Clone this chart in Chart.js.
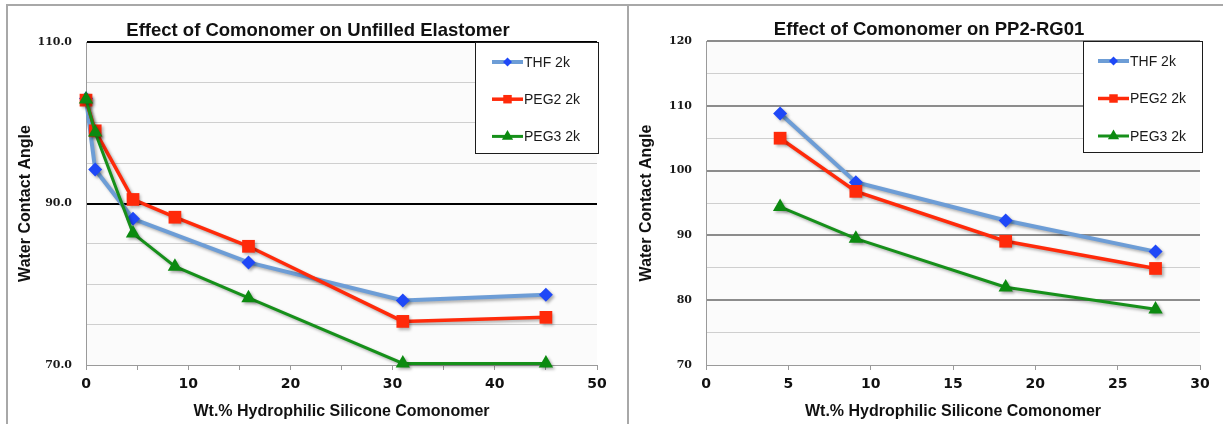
<!DOCTYPE html>
<html>
<head>
<meta charset="utf-8">
<title>Effect of Comonomer</title>
<script src="https://cdn.jsdelivr.net/npm/chart.js@4.4.0/dist/chart.umd.min.js"></script>
<style>
  html, body { margin: 0; padding: 0; background: #fff; }
  body { width: 1223px; height: 424px; position: relative; overflow: hidden; }
  .frame { position: absolute; background: #a8a8a8; }
  canvas { position: absolute; }
</style>
</head>
<body>
<div class="frame" style="left:6px; top:4px; width:1217px; height:2px;"></div>
<div class="frame" style="left:6px; top:4px; width:2px; height:420px;"></div>
<div class="frame" style="left:627px; top:4px; width:2px; height:420px;"></div>
<canvas id="elastomerChart" width="619" height="418" style="left:8px; top:6px;"></canvas>
<canvas id="ppChart" width="593" height="418" style="left:630px; top:6px;"></canvas>

<script>
/* Data */
const seriesNames = ['THF 2k', 'PEG2 2k', 'PEG3 2k'];

// Unfilled elastomer panel
const elastomerThfX = [0, 0.9, 4.6, 15.9, 31, 45];
const elastomerThfY = [103.0, 94.2, 88.1, 82.7, 78.0, 78.7];
const elastomerPeg2X = [0, 0.9, 4.6, 8.7, 15.9, 31, 45];
const elastomerPeg2Y = [102.8, 99.0, 90.5, 88.3, 84.7, 75.4, 75.9];
const elastomerPeg3X = [0, 0.9, 4.6, 8.7, 15.9, 31, 45];
const elastomerPeg3Y = [102.9, 98.8, 86.3, 82.2, 78.3, 70.2, 70.2];
const elastomerXTicks = [0, 10, 20, 30, 40, 50];
const elastomerYTicks = [70, 90, 110];

// PP2-RG01 panel
const ppX = [4.5, 9.1, 18.2, 27.3];
const ppThfY = [108.8, 98.2, 92.3, 87.5];
const ppPeg2Y = [105.0, 96.8, 89.1, 84.9];
const ppPeg3Y = [94.4, 89.5, 82.0, 78.6];
const ppXTicks = [0, 5, 10, 15, 20, 25, 30];
const ppYTicks = [70, 80, 90, 100, 110, 120];

/* Look */
const seriesStyles = [
  { line: '#6d9dd6', point: '#1f48f7', shape: 'rectRot', radius: 7, width: 4, legendRadius: 4.5 },
  { line: '#ff2a0a', point: '#ff2a0a', shape: 'rect', radius: 9, width: 3.5, legendRadius: 6 },
  { line: '#16901a', point: '#0c8a10', shape: 'triangle', radius: 8.3, width: 3, legendRadius: 6.5 },
];
const SANS = '"Liberation Sans", Arial, sans-serif';
const TICK_SANS = '"DejaVu Sans", Verdana, sans-serif';
const SERIF = '"DejaVu Serif", serif';

function toPoints(xs, ys) {
  return xs.map((x, i) => ({ x, y: ys[i] }));
}

function makeDataset(i, points) {
  const s = seriesStyles[i];
  return {
    label: seriesNames[i],
    data: points,
    borderColor: s.line,
    borderWidth: s.width,
    backgroundColor: s.point,
    pointStyle: s.shape,
    pointRadius: s.radius,
    pointBackgroundColor: s.point,
    pointBorderColor: s.point,
    pointBorderWidth: 0,
    tension: 0,
    clip: false,
    order: 2 - i, // later series sit on top, as in the original
  };
}

/* Plot-area tint */
const plotBackground = {
  id: 'plotBackground',
  beforeDraw(chart) {
    const { ctx, chartArea: a } = chart;
    ctx.save();
    ctx.fillStyle = '#fbfbfb';
    ctx.fillRect(a.left, a.top, a.right - a.left, a.bottom - a.top);
    ctx.restore();
  },
};

/* Soft drop shadow under lines and markers (Excel look) */
const seriesShadow = {
  id: 'seriesShadow',
  beforeDatasetsDraw(chart) {
    const ctx = chart.ctx;
    ctx.save();
    ctx.shadowColor = 'rgba(0,0,0,0.3)';
    ctx.shadowBlur = 3;
    ctx.shadowOffsetX = 2;
    ctx.shadowOffsetY = 2;
  },
  afterDatasetsDraw(chart) {
    chart.ctx.restore();
  },
};

/* Panel title, centred over the panel rather than the plot */
const panelTitle = {
  id: 'panelTitle',
  afterDraw(chart, args, opts) {
    const ctx = chart.ctx;
    ctx.save();
    ctx.font = 'bold 18.5px ' + SANS;
    ctx.fillStyle = '#111';
    ctx.textAlign = 'center';
    ctx.textBaseline = 'middle';
    ctx.fillText(opts.text, opts.x, opts.y);
    ctx.restore();
  },
};

/* Boxed legend sitting over the top-right of the plot */
const boxLegend = {
  id: 'boxLegend',
  afterDraw(chart, args, opts) {
    const ctx = chart.ctx;
    ctx.save();
    ctx.fillStyle = '#fff';
    ctx.fillRect(opts.left, opts.top, opts.width, opts.height);
    ctx.strokeStyle = '#1c1c1c';
    ctx.lineWidth = 1;
    ctx.strokeRect(opts.left + 0.5, opts.top + 0.5, opts.width, opts.height);

    chart.data.datasets.forEach((ds, i) => {
      const s = seriesStyles[i];
      const y = opts.firstRowY + i * opts.rowGap;
      ctx.strokeStyle = ds.borderColor;
      ctx.lineWidth = ds.borderWidth;
      ctx.beginPath();
      ctx.moveTo(opts.lineX, y);
      ctx.lineTo(opts.lineX + opts.lineLength, y);
      ctx.stroke();

      ctx.fillStyle = s.point;
      Chart.helpers.drawPoint(ctx, {
        pointStyle: s.shape, radius: s.legendRadius, rotation: 0, borderWidth: 0,
      }, opts.lineX + opts.lineLength / 2, y);

      ctx.fillStyle = '#1a1a1a';
      ctx.font = '14px ' + SANS;
      ctx.textAlign = 'left';
      ctx.textBaseline = 'middle';
      ctx.fillText(ds.label, opts.lineX + opts.lineLength + 1, y + 1);
    });
    ctx.restore();
  },
};

function xScale(max, labelled, height) {
  return {
    type: 'linear',
    min: 0,
    max,
    ticks: {
      stepSize: 5,
      autoSkip: false,
      maxRotation: 0,
      padding: 6,
      color: '#111',
      font: { family: TICK_SANS, weight: 'bold', size: 14 },
      callback: (v) => (labelled.includes(v) ? String(v) : ''),
    },
    grid: { drawOnChartArea: false, drawTicks: true, tickLength: 5, color: '#9a9a9a' },
    border: { color: '#9a9a9a', width: 1 },
    title: {
      display: true,
      text: 'Wt.% Hydrophilic Silicone Comonomer',
      color: '#111',
      font: { family: SANS, weight: 'bold', size: 16 },
      padding: { top: 0, bottom: 3 },
    },
    afterFit: (scale) => { scale.height = height; },
  };
}

function yScale(min, max, labelled, fmt, gridColor, gridWidth, width, titlePad) {
  return {
    type: 'linear',
    min,
    max,
    ticks: {
      stepSize: 5,
      autoSkip: false,
      padding: 14,
      color: '#1a1a1a',
      font: { family: SERIF, weight: 'bold', size: 11 },
      callback: (v) => (labelled.includes(v) ? fmt(v) : ''),
    },
    grid: {
      drawTicks: false,
      color: (c) => gridColor(c.tick.value),
      lineWidth: (c) => gridWidth(c.tick.value),
    },
    border: { color: '#9a9a9a', width: 1 },
    title: {
      display: true,
      text: 'Water Contact Angle',
      color: '#111',
      font: { family: SANS, weight: 'bold', size: 16 },
      padding: { top: titlePad, bottom: 0 },
    },
    afterFit: (scale) => { scale.width = width; },
  };
}

function baseOptions() {
  return {
    responsive: false,
    animation: false,
    devicePixelRatio: 1,
    events: [],
    plugins: { legend: { display: false }, tooltip: { enabled: false } },
  };
}

/* Left panel: unfilled elastomer */
function initElastomerChart() {
  const el = document.getElementById('elastomerChart');
  const opts = baseOptions();
  opts.layout = { padding: { top: 36, right: 30, bottom: 0, left: 0 } };
  opts.scales = {
    x: xScale(50, elastomerXTicks, 59),
    y: yScale(70, 110, elastomerYTicks, (v) => v.toFixed(1),
      (v) => (v === 110 || v === 90 ? '#000' : v === 70 ? '#9a9a9a' : '#cfcfcf'),
      (v) => (v === 110 || v === 90 ? 2 : 1),
      78, 8.4),
  };
  opts.plugins.panelTitle = { text: 'Effect of Comonomer on Unfilled Elastomer', x: 310, y: 25 };
  opts.plugins.boxLegend = {
    left: 467, top: 36, width: 123, height: 111,
    firstRowY: 56, rowGap: 37.2, lineX: 484, lineLength: 31,
  };

  new Chart(el, {
    type: 'line',
    data: {
      datasets: [
        makeDataset(0, toPoints(elastomerThfX, elastomerThfY)),
        makeDataset(1, toPoints(elastomerPeg2X, elastomerPeg2Y)),
        makeDataset(2, toPoints(elastomerPeg3X, elastomerPeg3Y)),
      ],
    },
    options: opts,
    plugins: [plotBackground, seriesShadow, panelTitle, boxLegend],
  });
}

/* Right panel: PP2-RG01 */
function initPpChart() {
  const el = document.getElementById('ppChart');
  const opts = baseOptions();
  opts.layout = { padding: { top: 35, right: 23, bottom: 0, left: 0 } };
  opts.scales = {
    x: xScale(30, ppXTicks, 59),
    y: yScale(70, 120, ppYTicks, (v) => String(v),
      (v) => (v === 70 ? '#9a9a9a' : v % 10 === 0 ? '#8c8c8c' : '#cfcfcf'),
      (v) => (v !== 70 && v % 10 === 0 ? 2 : 1),
      76, 7.4),
  };
  opts.plugins.panelTitle = { text: 'Effect of Comonomer on PP2-RG01', x: 299, y: 24 };
  opts.plugins.boxLegend = {
    left: 453, top: 35, width: 119, height: 111,
    firstRowY: 55, rowGap: 37.5, lineX: 468, lineLength: 31,
  };

  new Chart(el, {
    type: 'line',
    data: {
      datasets: [
        makeDataset(0, toPoints(ppX, ppThfY)),
        makeDataset(1, toPoints(ppX, ppPeg2Y)),
        makeDataset(2, toPoints(ppX, ppPeg3Y)),
      ],
    },
    options: opts,
    plugins: [plotBackground, seriesShadow, panelTitle, boxLegend],
  });
}

initElastomerChart();
initPpChart();
</script>
</body>
</html>
